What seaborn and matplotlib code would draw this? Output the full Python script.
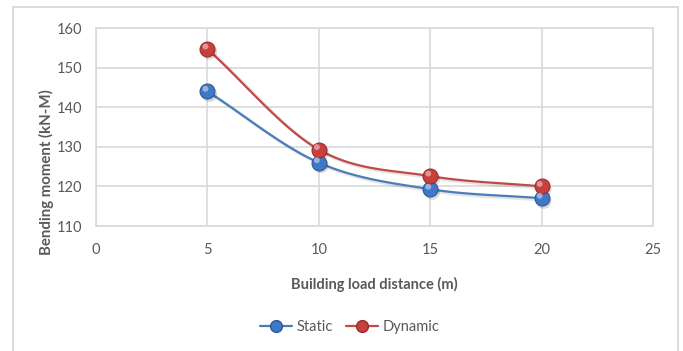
import numpy as np
import pandas as pd
import matplotlib
matplotlib.use("Agg")
import matplotlib.pyplot as plt
import matplotlib.transforms as mtransforms
from matplotlib.lines import Line2D
from matplotlib.patches import Rectangle
import seaborn as sns

# Bending moment versus building load distance
distance = [5, 10, 15, 20]
static_moment = [144.0, 126.0, 119.3, 117.0]
dynamic_moment = [154.7, 129.3, 122.6, 120.0]

x_ticks = [0, 5, 10, 15, 20, 25]
y_ticks = [110, 120, 130, 140, 150, 160]

series_colors = {"Static": "#4a7ebb", "Dynamic": "#be4b48"}
marker_colors = {"Static": "#3f78c6", "Dynamic": "#c8403d"}
marker_edges = {"Static": "#2a5a9a", "Dynamic": "#9a2c2a"}

df = pd.concat([
    pd.DataFrame({"distance": distance, "moment": static_moment, "series": "Static"}),
    pd.DataFrame({"distance": distance, "moment": dynamic_moment, "series": "Dynamic"}),
], ignore_index=True)


def smooth_curve(x, y, steps=40):
    """Catmull-Rom style smoothing through the points (spreadsheet 'smoothed line')."""
    x = np.asarray(x, float)
    y = np.asarray(y, float)
    px = np.concatenate([[2 * x[0] - x[1]], x, [2 * x[-1] - x[-2]]])
    py = np.concatenate([[2 * y[0] - y[1]], y, [2 * y[-1] - y[-2]]])
    out_x, out_y = [], []
    t = np.linspace(0, 1, steps)
    for i in range(1, len(px) - 2):
        p0x, p1x, p2x, p3x = px[i - 1:i + 3]
        p0y, p1y, p2y, p3y = py[i - 1:i + 3]
        # cubic Bezier control points with tension 1/6
        c1x, c1y = p1x + (p2x - p0x) / 6, p1y + (p2y - p0y) / 6
        c2x, c2y = p2x - (p3x - p1x) / 6, p2y - (p3y - p1y) / 6
        bx = (1 - t) ** 3 * p1x + 3 * (1 - t) ** 2 * t * c1x + 3 * (1 - t) * t ** 2 * c2x + t ** 3 * p2x
        by = (1 - t) ** 3 * p1y + 3 * (1 - t) ** 2 * t * c1y + 3 * (1 - t) * t ** 2 * c2y + t ** 3 * p2y
        out_x.extend(bx)
        out_y.extend(by)
    return np.array(out_x), np.array(out_y)


sns.set_theme(style="white")
plt.rcParams["font.family"] = ["Lato", "DejaVu Sans"]

fig = plt.figure(figsize=(6.83, 3.51), dpi=100)
fig.patch.set_facecolor("white")

# outer chart-area border
fig.add_artist(Rectangle((13 / 683, -0.05), 665 / 683, 1.05 - 7 / 351,
                         transform=fig.transFigure, fill=False,
                         edgecolor="#d9d9d9", linewidth=1.3))

ax = fig.add_axes([96 / 683, 1 - 226 / 351, 557 / 683, 198 / 351])

shadow_shift = mtransforms.ScaledTranslation(1.5 / 72, -2 / 72, fig.dpi_scale_trans)
highlight_shift = mtransforms.ScaledTranslation(-1.4 / 72, 1.8 / 72, fig.dpi_scale_trans)

for name in ["Static", "Dynamic"]:
    sub = df[df["series"] == name]
    sx, sy = smooth_curve(sub["distance"], sub["moment"])
    # soft shadow beneath the line
    ax.plot(sx + 0.12, sy - 0.45, color="#000000", alpha=0.10, lw=2.4,
            solid_capstyle="round", zorder=2)
    ax.plot(sx, sy, color=series_colors[name], lw=1.6, zorder=3)

    sns.scatterplot(data=sub, x="distance", y="moment", ax=ax, s=125,
                    color="#000000", alpha=0.15, edgecolor="none", zorder=4,
                    legend=False, transform=ax.transData + shadow_shift)
    sns.scatterplot(data=sub, x="distance", y="moment", ax=ax, s=115,
                    color=marker_colors[name], edgecolor=marker_edges[name],
                    linewidth=0.8, zorder=5, legend=False)
    # highlight on the sphere
    sns.scatterplot(data=sub, x="distance", y="moment", ax=ax, s=18,
                    color="white", alpha=0.45, edgecolor="none", zorder=6,
                    legend=False, transform=ax.transData + highlight_shift)

ax.set_xlim(0, 25)
ax.set_ylim(110, 160)
ax.set_xticks(x_ticks)
ax.set_yticks(y_ticks)
ax.grid(True, color="#d9d9d9", linewidth=1.2)
ax.set_axisbelow(True)
for sp in ax.spines.values():
    sp.set_color("#d9d9d9")
    sp.set_linewidth(1.2)
ax.tick_params(axis="both", length=0, labelsize=10.5, labelcolor="#595959")
ax.tick_params(axis="x", pad=12)
ax.tick_params(axis="y", pad=10)

ax.set_xlabel("Building load distance (m)", fontsize=10.5, fontweight="bold",
              color="#595959")
ax.set_ylabel("Bending moment (kN-M)", fontsize=10.8, fontweight="bold",
              color="#595959")
ax.xaxis.set_label_coords(0.5, -0.255)
ax.yaxis.set_label_coords(-0.076, 0.273)

handles = [Line2D([0], [0], color=series_colors[n], lw=1.6, marker="o",
                  markersize=8.5, markerfacecolor=marker_colors[n],
                  markeredgecolor=marker_edges[n]) for n in ["Static", "Dynamic"]]
fig.legend(handles, ["Static", "Dynamic"], loc="center", ncol=2,
           bbox_to_anchor=(350 / 683, 1 - 327 / 351), frameon=False,
           fontsize=10.5, labelcolor="#595959", handlelength=2.2,
           handletextpad=0.3, columnspacing=0.9)

fig.savefig("out.png", dpi=100)
